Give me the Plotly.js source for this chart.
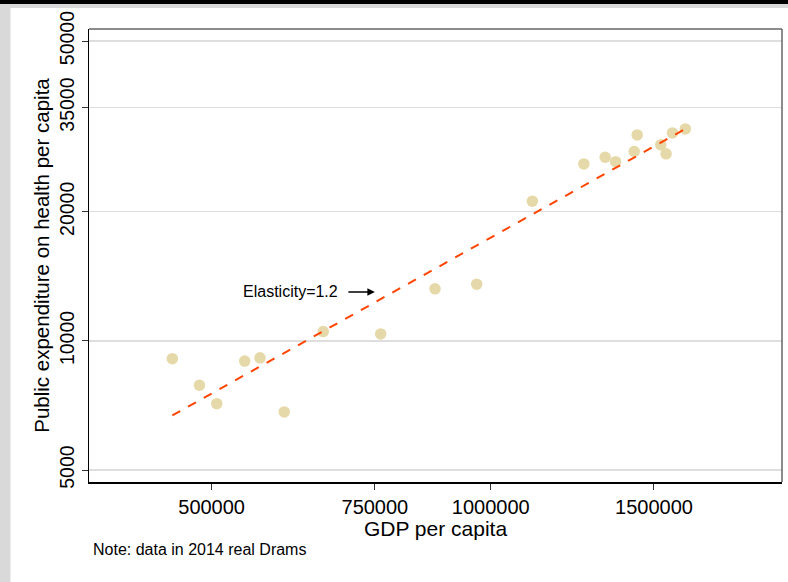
<!DOCTYPE html>
<html>
<head>
<meta charset="utf-8">
<script src="https://cdn.plot.ly/plotly-3.0.1.min.js"></script>
<style>html,body{margin:0;padding:0;background:#fff;}#chart{width:788px;height:582px;}</style>
</head>
<body>
<div id="chart"></div>
<script>
// Data (GDP per capita vs public health expenditure per capita)
const gdp = [453500, 485100, 506400, 542800, 563800, 598800, 659700, 760900, 870800, 965800,
             1108900, 1260300, 1328800, 1363600, 1428200, 1438800, 1525800, 1545900, 1570300, 1621700];
const health = [9090, 7880, 7140, 8970, 9130, 6830, 10510, 10380, 13220, 13560,
                21170, 25850, 26800, 26170, 27630, 30210, 28640, 27290, 30530, 31200];
// Fitted line endpoints (elasticity 1.2)
const fitX = [453500, 1621700];
const fitY = [6700, 31200];
// Tick labels
const xTicks = [500000, 750000, 1000000, 1500000];
const xTickText = ["500000", "750000", "1000000", "1500000"];
const yTicks = [5000, 10000, 20000, 35000, 50000];
const yTickText = ["5000", "10000", "20000", "35000", "50000"];
const annoText = "Elasticity=1.2";
const annoPoint = [750000, 13000];
const noteText = "Note: data in 2014 real Drams";

const FONT = "Liberation Sans, Arial, sans-serif";

const traces = [
  {
    x: gdp, y: health, type: "scatter", mode: "markers",
    marker: {color: "#e6d9a9", size: 11.5, line: {width: 0}},
    hoverinfo: "x+y", showlegend: false
  },
  {
    x: fitX, y: fitY, type: "scatter", mode: "lines",
    line: {color: "#ff4500", width: 2, dash: "dash"},
    showlegend: false
  }
];

// paper coordinate helpers (plot area: 89..782 px x, 29..482 px y)
const px = v => (v - 89) / 693;
const py = v => (482 - v) / 453;

const layout = {
  width: 788, height: 582,
  margin: {l: 89, r: 6, t: 29, b: 100},
  paper_bgcolor: "#ffffff", plot_bgcolor: "#ffffff",
  font: {family: FONT, color: "#000"},
  xaxis: {
    type: "log",
    range: [5.5667, 6.3142],
    tickvals: xTicks, ticktext: xTickText,
    ticks: "outside", ticklen: 6, tickcolor: "#333", tickwidth: 1,
    showgrid: false, zeroline: false,
    showline: true, linecolor: "#000", linewidth: 1.5,
    tickfont: {size: 20, family: FONT},
    title: {text: "GDP per capita", font: {size: 21, family: FONT}, standoff: 2}
  },
  yaxis: {
    type: "log",
    range: [3.671, 4.727],
    tickvals: yTicks, ticktext: yTickText,
    tickangle: -90,
    ticks: "outside", ticklen: 6, tickcolor: "#333", tickwidth: 1,
    showgrid: true, gridcolor: "#dedede", gridwidth: 1.5,
    zeroline: false,
    showline: true, linecolor: "#000", linewidth: 1.5,
    tickfont: {size: 19.5, family: FONT},
    title: {text: "Public expenditure on health per capita", font: {size: 20.5, family: FONT}, standoff: 0}
  },
  shapes: [
    // top black bar and gray band, left gray strip
    {type: "rect", xref: "paper", yref: "paper", x0: px(0), x1: px(788), y0: py(8), y1: py(4), fillcolor: "#d9d9d9", line: {width: 0}, layer: "below"},
    {type: "rect", xref: "paper", yref: "paper", x0: px(0), x1: px(788), y0: py(4), y1: py(0), fillcolor: "#000000", line: {width: 0}, layer: "below"},
    {type: "rect", xref: "paper", yref: "paper", x0: px(0), x1: px(10.5), y0: py(582), y1: py(4), fillcolor: "#d9d9d9", line: {width: 0}, layer: "below"},
    // top and right frame lines
    {type: "line", xref: "paper", yref: "paper", x0: 0, x1: 1, y0: 1, y1: 1, line: {color: "#666", width: 1.5}},
    {type: "line", xref: "paper", yref: "paper", x0: 1, x1: 1, y0: 0, y1: 1, line: {color: "#666", width: 1.5}}
  ],
  annotations: [
    {
      xref: "x", yref: "y",
      x: Math.log10(annoPoint[0]), y: Math.log10(annoPoint[1]),
      text: "", showarrow: true, arrowhead: 2, arrowsize: 1, arrowwidth: 1.5,
      arrowcolor: "#000", ax: -28, ay: 0, standoff: 0
    },
    {
      xref: "x", yref: "y",
      x: Math.log10(688000), y: Math.log10(annoPoint[1]),
      text: annoText, showarrow: false, xanchor: "right", yanchor: "middle",
      font: {size: 16, family: FONT, color: "#000"}
    },
    {
      xref: "paper", yref: "paper",
      x: px(91), y: py(549),
      text: noteText, showarrow: false, xanchor: "left", yanchor: "middle",
      font: {size: 16, family: FONT, color: "#000"}
    }
  ]
};

Plotly.newPlot("chart", traces, layout, {displayModeBar: false, staticPlot: true});
</script>
</body>
</html>
